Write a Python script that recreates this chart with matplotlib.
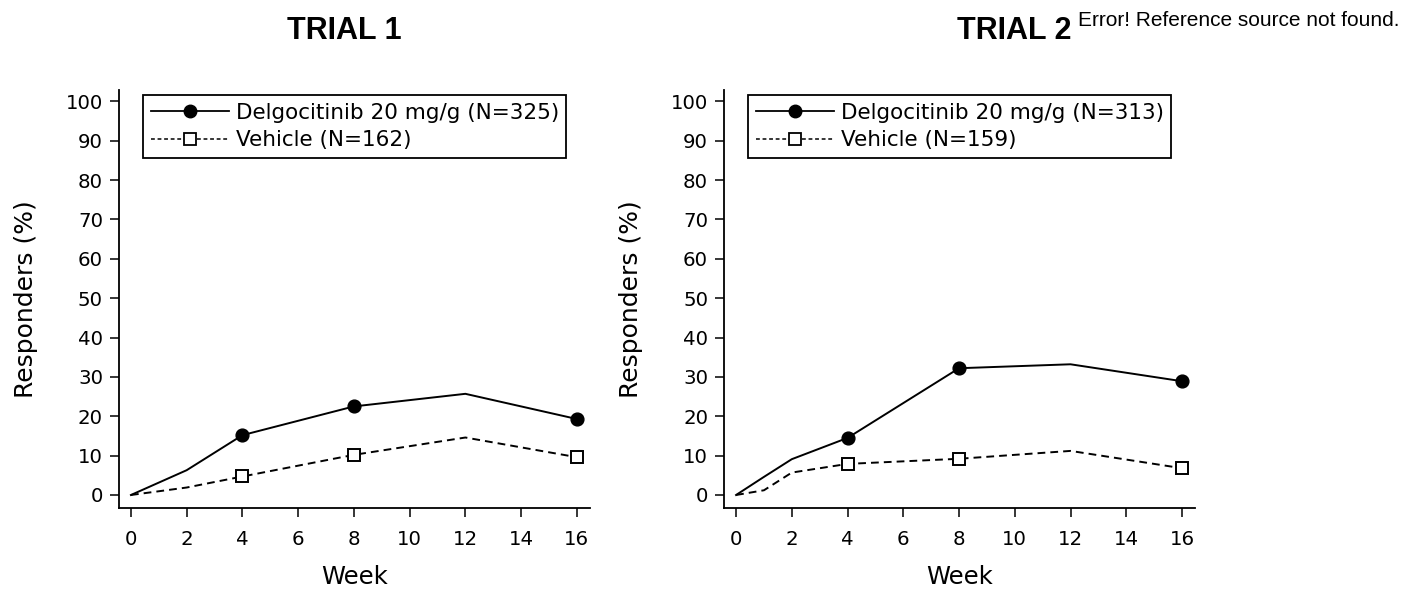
import matplotlib.pyplot as plt
from matplotlib.lines import Line2D

plt.rcParams['font.family'] = ['DejaVu Sans']

# ---------- Data ----------
t1_delgo_weeks = [0, 2, 4, 8, 12, 16]
t1_delgo_resp = [0, 6.3, 15.2, 22.5, 25.7, 19.3]
t1_veh_weeks = [0, 2, 4, 8, 12, 16]
t1_veh_resp = [0, 1.9, 4.7, 10.2, 14.6, 9.6]

t2_delgo_weeks = [0, 1, 2, 4, 8, 12, 16]
t2_delgo_resp = [0, 4.6, 9.1, 14.5, 32.2, 33.2, 28.9]
t2_veh_weeks = [0, 1, 2, 4, 8, 12, 16]
t2_veh_resp = [0, 1.2, 5.7, 7.9, 9.2, 11.2, 6.8]

trial_titles = ["TRIAL 1", "TRIAL 2"]
delgo_labels = ["Delgocitinib 20 mg/g (N=325)", "Delgocitinib 20 mg/g (N=313)"]
veh_labels = ["Vehicle (N=162)", "Vehicle (N=159)"]
marker_weeks = [4, 8, 16]

fig = plt.figure(figsize=(14.06, 5.9), dpi=100)
ax1 = fig.add_axes([0.0846, 0.139, 0.335, 0.708])
ax2 = fig.add_axes([0.515, 0.139, 0.335, 0.708])

panels = [
    (ax1, t1_delgo_weeks, t1_delgo_resp, t1_veh_weeks, t1_veh_resp),
    (ax2, t2_delgo_weeks, t2_delgo_resp, t2_veh_weeks, t2_veh_resp),
]

for i, (ax, dw, dr, vw, vr) in enumerate(panels):
    d_mark = [k for k, w in enumerate(dw) if w in marker_weeks]
    v_mark = [k for k, w in enumerate(vw) if w in marker_weeks]
    ax.plot(dw, dr, color='black', lw=1.4, marker='o', markersize=9.2,
            markevery=d_mark)
    ax.plot(vw, vr, color='black', lw=1.4, ls=(0, (4, 2.6)), marker='s',
            markersize=8.6, markerfacecolor='white', markeredgewidth=1.4,
            markevery=v_mark)
    ax.set_xlim(-0.43, 16.47)
    ax.set_ylim(-3.3, 102.8)
    ax.set_xticks(range(0, 17, 2))
    ax.set_yticks(range(0, 101, 10))
    ax.tick_params(labelsize=14.2, length=6.5, width=1.1, direction='out')
    ax.tick_params(axis='x', pad=9)
    ax.tick_params(axis='y', pad=5)
    for s in ['top', 'right']:
        ax.spines[s].set_visible(False)
    for s in ['left', 'bottom']:
        ax.spines[s].set_linewidth(1.3)
    ax.set_xlabel("Week", fontsize=17.5, labelpad=12)
    ax.set_ylabel("Responders (%)", fontsize=18, labelpad=20)

    # legend handles (shorter dashes than the plotted line)
    h1 = Line2D([], [], color='black', lw=1.3, marker='o', markersize=9)
    h2 = Line2D([], [], color='black', lw=1.1, ls=(0, (2.5, 1.8)), marker='s',
                markersize=8.2, markerfacecolor='white', markeredgewidth=1.3)
    leg = ax.legend([h1, h2], [delgo_labels[i], veh_labels[i]],
                    loc='upper left', fontsize=15.5, frameon=True, fancybox=False,
                    edgecolor='black', handlelength=3.65, borderpad=0.35,
                    labelspacing=0.35, handletextpad=0.3, borderaxespad=0,
                    bbox_to_anchor=(0.051, 0.988))
    leg.get_frame().set_linewidth(1.3)
    leg.get_frame().set_alpha(1)

fig.text(0.245, 0.947, trial_titles[0], fontsize=22, fontweight='bold',
         family='Liberation Sans', ha='center', va='center')
fig.text(0.6805, 0.947, trial_titles[1], fontsize=22, fontweight='bold',
         family='Liberation Sans', ha='left', va='center')
fig.text(0.7665, 0.965, "Error! Reference source not found.", fontsize=15,
         family='Liberation Sans', ha='left', va='center')

fig.savefig('out.png', dpi=100)
